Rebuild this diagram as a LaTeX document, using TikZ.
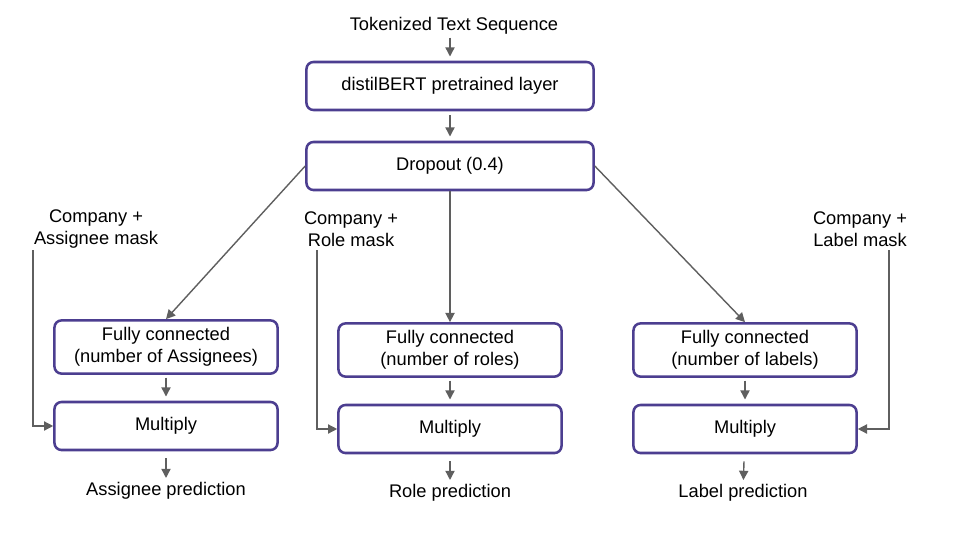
\documentclass[tikz,border=0pt]{standalone}
\usepackage{fontspec}
\setmainfont{Liberation Sans}
\usetikzlibrary{arrows.meta,calc,positioning}
\definecolor{boxpurple}{RGB}{76,62,144}
\definecolor{arrowgray}{RGB}{95,95,95}
\tikzset{
  capa/.style={
    rounded corners=5pt,
    draw=boxpurple,
    line width=1.8pt,
    fill=white,
    align=center,
    minimum width=7.175cm,
    minimum height=1.2cm,
    inner sep=3pt,
    font=\fontsize{13}{15.5}\selectfont
  },
  salida/.style={
    capa,
    minimum width=5.575cm
  },
  etiqueta/.style={
    align=center,
    inner sep=1pt,
    font=\fontsize{13}{15.5}\selectfont
  },
  arrow/.style={
    -{Triangle[length=2.3mm,width=2.3mm]},
    line width=1pt,
    arrowgray
  }
}
\begin{document}
\begin{tikzpicture}[x=0.025cm,y=-0.025cm]
\useasboundingbox (0,0) rectangle (960,540);
% entrada y capas comunes
\node[etiqueta] (tok) at (454,26) {Tokenized Text Sequence};
\node[capa] (bert) at (450,86) {distilBERT pretrained layer};
\node[capa] (drop) at (450,166) {Dropout (0.4)};
% ramas
\node[salida, minimum height=1.33cm] (fc1) at (166,347) {Fully connected\\(number of Assignees)};
\node[salida] (mul1) at (166,426) {Multiply};
\node[salida, minimum height=1.33cm] (fc2) at (450,350) {Fully connected\\(number of roles)};
\node[salida] (mul2) at (450,429) {Multiply};
\node[salida, minimum height=1.33cm] (fc3) at (745,350) {Fully connected\\(number of labels)};
\node[salida] (mul3) at (745,429) {Multiply};
% mascaras
\node[etiqueta] (mask1) at (96,229) {Company +\\Assignee mask};
\node[etiqueta] (mask2) at (351,229) {Company +\\Role mask};
\node[etiqueta] (mask3) at (860,229) {Company +\\Label mask};
\coordinate (m1) at (33,250);
\coordinate (m2) at (317,250);
\coordinate (m3) at (889,250);
% predicciones
\node[etiqueta] (pred1) at (166,491) {Assignee prediction};
\node[etiqueta] (pred2) at (450,493) {Role prediction};
\node[etiqueta] (pred3) at (743,493) {Label prediction};
% flechas
\draw[arrow, shorten <=1pt, shorten >=3pt] (tok.south -| bert) -- (bert);
\draw[arrow, shorten <=3pt, shorten >=3pt] (bert) -- (drop);
\draw[arrow] (drop.west) -- (fc1.north);
\draw[arrow] (drop) -- (fc2);
\draw[arrow] (drop.east) -- (fc3.north);
\foreach \i in {1,2,3}{
  \draw[arrow, shorten <=2pt, shorten >=3pt] (fc\i) -- (mul\i);
  \draw[arrow, shorten <=5pt, shorten >=2pt] (mul\i) -- (pred\i);
}
\draw[arrow] (m1) |- (mul1);
\draw[arrow] (m2) |- (mul2);
\draw[arrow] (m3) |- (mul3);
\end{tikzpicture}
\end{document}
